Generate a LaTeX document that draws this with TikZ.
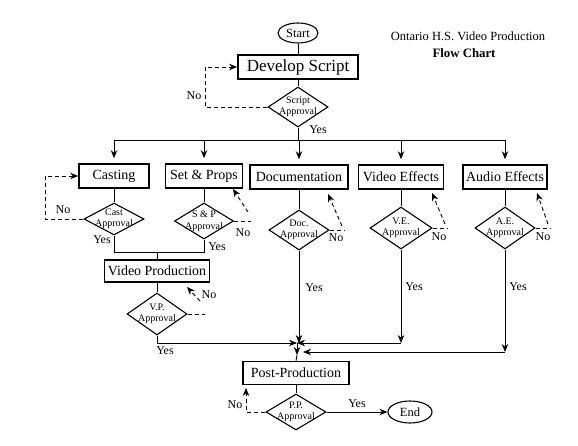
\documentclass[tikz,border=0pt]{standalone}
\usepackage{fontspec}
\setmainfont{Liberation Serif}
\usetikzlibrary{arrows.meta,shapes.geometric}
\newcommand{\fsz}[1]{\fontsize{#1}{#1}\selectfont}
\begin{document}
\begin{tikzpicture}[x=1pt,y=-1pt,
 conn/.style={line width=0.9pt},
 arr/.style={conn,-{Stealth[length=8pt,width=6.5pt]}},
 fb/.style={arr,dash pattern=on 4pt off 3pt},
 fbl/.style={conn,dash pattern=on 4pt off 3pt},
 bigbox/.style={draw,line width=1.8pt,inner sep=0pt,minimum height=24pt,font=\fsz{17}},
 rowbox/.style={draw,line width=1.6pt,inner sep=0pt,minimum height=24pt,font=\fsz{14}},
 dia/.style={draw,diamond,line width=1.1pt,inner xsep=-14pt,inner ysep=-10pt,align=center,font=\fontsize{10}{11.5}\selectfont},
 term/.style={draw,ellipse,line width=1.1pt,inner sep=0pt,font=\fsz{12.5}},
 lab/.style={font=\fsz{12},inner sep=0pt}]
\useasboundingbox (0,0) rectangle (578,446);

% title
\node[font=\fsz{12.5}] (t1) at (468,36) {Ontario H.S. Video Production};
\node[font=\bfseries\fsz{12.8}] (t2) at (464,53) {Flow Chart};

% top
\node[term,minimum width=40pt,minimum height=20pt] (start) at (298,33) {Start};
\node[bigbox,minimum width=120pt] (dev) at (298,67) {Develop Script};
\node[dia,minimum width=60pt,minimum height=40pt] (sa) at (298,107) {Script\\Approval};
\draw[conn] (start) -- (dev);
\draw[conn] (dev) -- (sa);
\coordinate (noS) at (205,107);
\draw[fb] (sa.west) -- (noS) |- (dev.west);
\node[lab] (noSl) at (194,96) {No};
\coordinate (br) at (298,140);
\draw[conn] (sa.south) -- (br);
\node[lab] (yesS) at (318,130) {Yes};

% row boxes
\node[rowbox,minimum width=70pt] (cast) at (114,176) {Casting};
\node[rowbox,minimum width=77pt] (sp) at (204,176) {Set \& Props};
\node[rowbox,minimum width=98pt] (doc) at (299,177) {Documentation};
\node[rowbox,minimum width=85pt] (ve) at (401,177) {Video Effects};
\node[rowbox,minimum width=84pt] (ae) at (505,177) {Audio Effects};
\foreach \n in {cast,sp,doc,ve,ae}{
  \draw[arr,shorten >=5pt] (br) -| (\n.north);
}

% approval diamonds
\node[dia,minimum width=60pt,minimum height=32pt] (ca) at (114,219) {Cast\\Approval};
\node[dia,minimum width=59pt,minimum height=36pt] (spa) at (204,221) {S \& P\\Approval};
\node[dia,minimum width=60pt,minimum height=40pt] (da) at (299,230) {Doc.\\Approval};
\node[dia,minimum width=62pt,minimum height=42pt] (vea) at (401,228) {V.E.\\Approval};
\node[dia,minimum width=60pt,minimum height=42pt] (aea) at (505,228) {A.E.\\Approval};
\draw[conn] (cast) -- (ca);
\draw[conn] (sp) -- (spa);
\draw[conn] (doc) -- (da);
\draw[conn] (ve) -- (vea);
\draw[conn] (ae) -- (aea);

% casting no
\coordinate (noC) at (45,219);
\draw[fb] (ca.west) -- (noC) |- (cast.west);
\node[lab] (noCl) at (63,210) {No};

% S&P no
\coordinate (spe) at (251,221);
\coordinate (spd) at (248,212);
\coordinate (spt) at (233,189);
\draw[fbl] (spa.east) -- (spe);
\draw[fb] (spd) -- (spt);
\node[lab] (spNo) at (243,233) {No};

% Doc no
\coordinate (de) at (344,230);
\coordinate (dd) at (342,226);
\coordinate (dt) at (328,194);
\draw[fbl] (da.east) -- (de);
\draw[fb] (dd) -- (dt);
\node[lab] (dNo) at (336,238) {No};

% VE no
\coordinate (vee) at (447,228);
\coordinate (ved) at (445,224);
\coordinate (vet) at (432,193);
\draw[fbl] (vea.east) -- (vee);
\draw[fb] (ved) -- (vet);
\node[lab] (veNo) at (439,237) {No};

% AE no
\coordinate (aee) at (551,228);
\coordinate (aed) at (548,224);
\coordinate (aet) at (537,193);
\draw[fbl] (aea.east) -- (aee);
\draw[fb] (aed) -- (aet);
\node[lab] (aeNo) at (543,237) {No};

% join cast + set
\coordinate (j1) at (114,252);
\coordinate (j2) at (204,252);
\node[rowbox,minimum width=105pt,minimum height=22pt] (vp) at (157,271) {Video Production};
\coordinate (jm) at (157,252);
\draw[conn] (ca.south) -- (j1) -- (j2) -- (spa.south);
\draw[conn] (jm) -- (vp.north);
\node[lab] (yc) at (102,240) {Yes};
\node[lab] (ysp) at (217,247) {Yes};

\node[dia,minimum width=60pt,minimum height=42pt] (vpa) at (157,314) {V.P.\\Approval};
\draw[conn] (vp) -- (vpa);
\coordinate (vpe) at (205,314);
\coordinate (vpd) at (200,301);
\coordinate (vpt) at (187,287);
\draw[fbl] (vpa.east) -- (vpe);
\draw[fb] (vpd) -- (vpt);
\node[lab] (vpNo) at (209,295) {No};

% merge
\coordinate (M1) at (297,343);
\coordinate (M2) at (297,355);
\coordinate (vpc) at (157,343);
\draw[arr] (vpa.south) -- (vpc) -- (M1);
\node[lab] (yvp) at (165,351) {Yes};
\draw[arr] (da.south) -- (da.south |- M1);
\node[lab] (yd) at (314,288) {Yes};
\coordinate (vec) at (401,343);
\draw[arr] (vea.south) -- (vec);
\draw[arr] (vec) -- (M1);
\node[lab] (yve) at (414,287) {Yes};
\coordinate (aec) at (505,352);
\coordinate (aem) at (303,352);
\draw[arr] (aea.south) -- (aec);
\draw[arr] (aec) -- (aem);
\node[lab] (yae) at (518,287) {Yes};

\node[rowbox,minimum width=106pt,minimum height=23pt] (pp) at (296,373) {Post-Production};
\draw[arr] (M1) -- (M2);
\draw[conn] (M2) -- (pp.north);

\node[dia,minimum width=60pt,minimum height=36pt] (ppa) at (296,412) {P.P.\\Approval};
\draw[conn] (pp) -- (ppa);
\node[term,minimum width=44pt,minimum height=22pt] (end) at (410,412) {End};
\draw[arr] (ppa.east) -- (end.west);
\node[lab] (yp) at (357,404) {Yes};
\coordinate (ppc) at (246,412);
\coordinate (ppt) at (246,388);
\draw[fb] (ppa.west) -- (ppc) -- (ppt);
\node[lab] (npp) at (235,405) {No};
\end{tikzpicture}
\end{document}
